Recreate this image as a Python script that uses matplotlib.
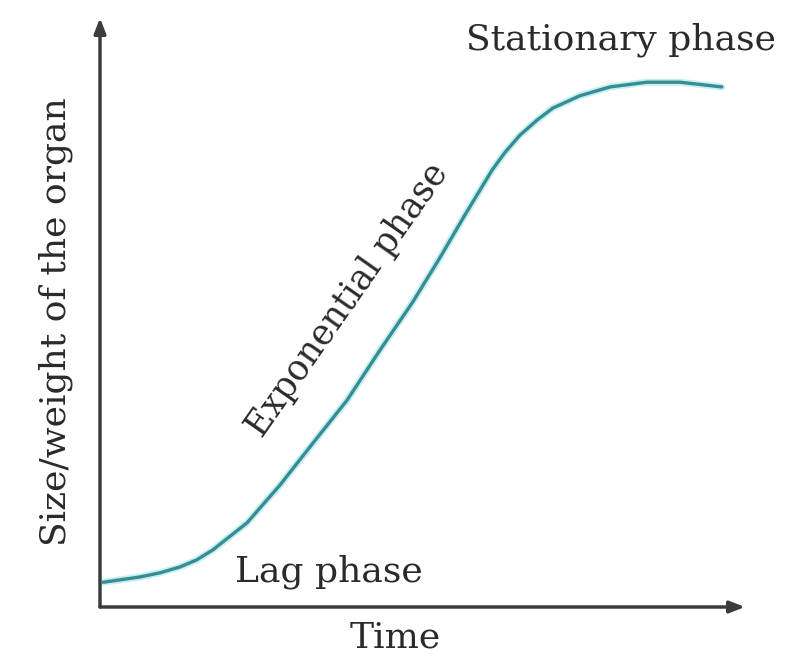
import matplotlib.pyplot as plt

# growth curve (arbitrary units, 0-10 on both axes)
time = [0.05, 0.62, 0.93, 1.24, 1.50, 1.75, 2.28, 2.79, 3.30, 3.83, 4.34, 4.85,
        5.27, 5.66, 6.08, 6.28, 6.51, 6.78, 7.02, 7.44, 7.91, 8.48, 8.99, 9.64]
size = [0.42, 0.51, 0.58, 0.68, 0.80, 0.97, 1.43, 2.07, 2.78, 3.51, 4.36, 5.18,
        5.93, 6.66, 7.42, 7.72, 8.01, 8.27, 8.47, 8.68, 8.83, 8.91, 8.91, 8.83]

x_label = "Time"
y_label = "Size/weight of the organ"
phase_labels = ["Lag phase", "Exponential phase", "Stationary phase"]

plt.rcParams['font.family'] = ['DejaVu Serif']
text_col = '#2a2a2a'
axis_col = '#3c3c3c'
curve_col = '#3a8c94'
fs = 26

fig = plt.figure(figsize=(7.92, 6.55), dpi=100)
ax = fig.add_axes([100 / 792, 48 / 655, 645 / 792, 589 / 655])
ax.set_xlim(0, 10)
ax.set_ylim(0, 10)
ax.axis('off')

# axes drawn as arrows
arrow = dict(arrowstyle='-|>,head_length=0.9,head_width=0.35', color=axis_col,
             lw=2.5, shrinkA=0, shrinkB=0)
ax.annotate('', xy=(1.0, 0), xytext=(0, 0), xycoords='axes fraction', arrowprops=arrow)
ax.annotate('', xy=(0, 1.0), xytext=(0, 0), xycoords='axes fraction', arrowprops=arrow)

# soft halo then the curve itself
ax.plot(time, size, color='#c4f0f2', lw=5, solid_capstyle='round',
        solid_joinstyle='round', zorder=2)
ax.plot(time, size, color=curve_col, lw=2.4, solid_capstyle='round',
        solid_joinstyle='round', zorder=3)

ax.text(4.57, -0.52, x_label, ha='center', va='center', fontsize=fs, color=text_col)
fig.text(56 / 792, 1 - 322 / 655, y_label, rotation=90, ha='center', va='center',
         fontsize=fs, color=text_col)
ax.text(2.09, 0.59, phase_labels[0], ha='left', va='center', fontsize=fs, color=text_col)
ax.text(3.83, 5.21, phase_labels[1], ha='center', va='center', fontsize=fs - 1,
        color=text_col, rotation=55, rotation_mode='anchor')
fig.text(776 / 792, 1 - 40 / 655, phase_labels[2], ha='right', va='center',
         fontsize=fs, color=text_col)

fig.savefig('out.png', dpi=100, facecolor='white')
